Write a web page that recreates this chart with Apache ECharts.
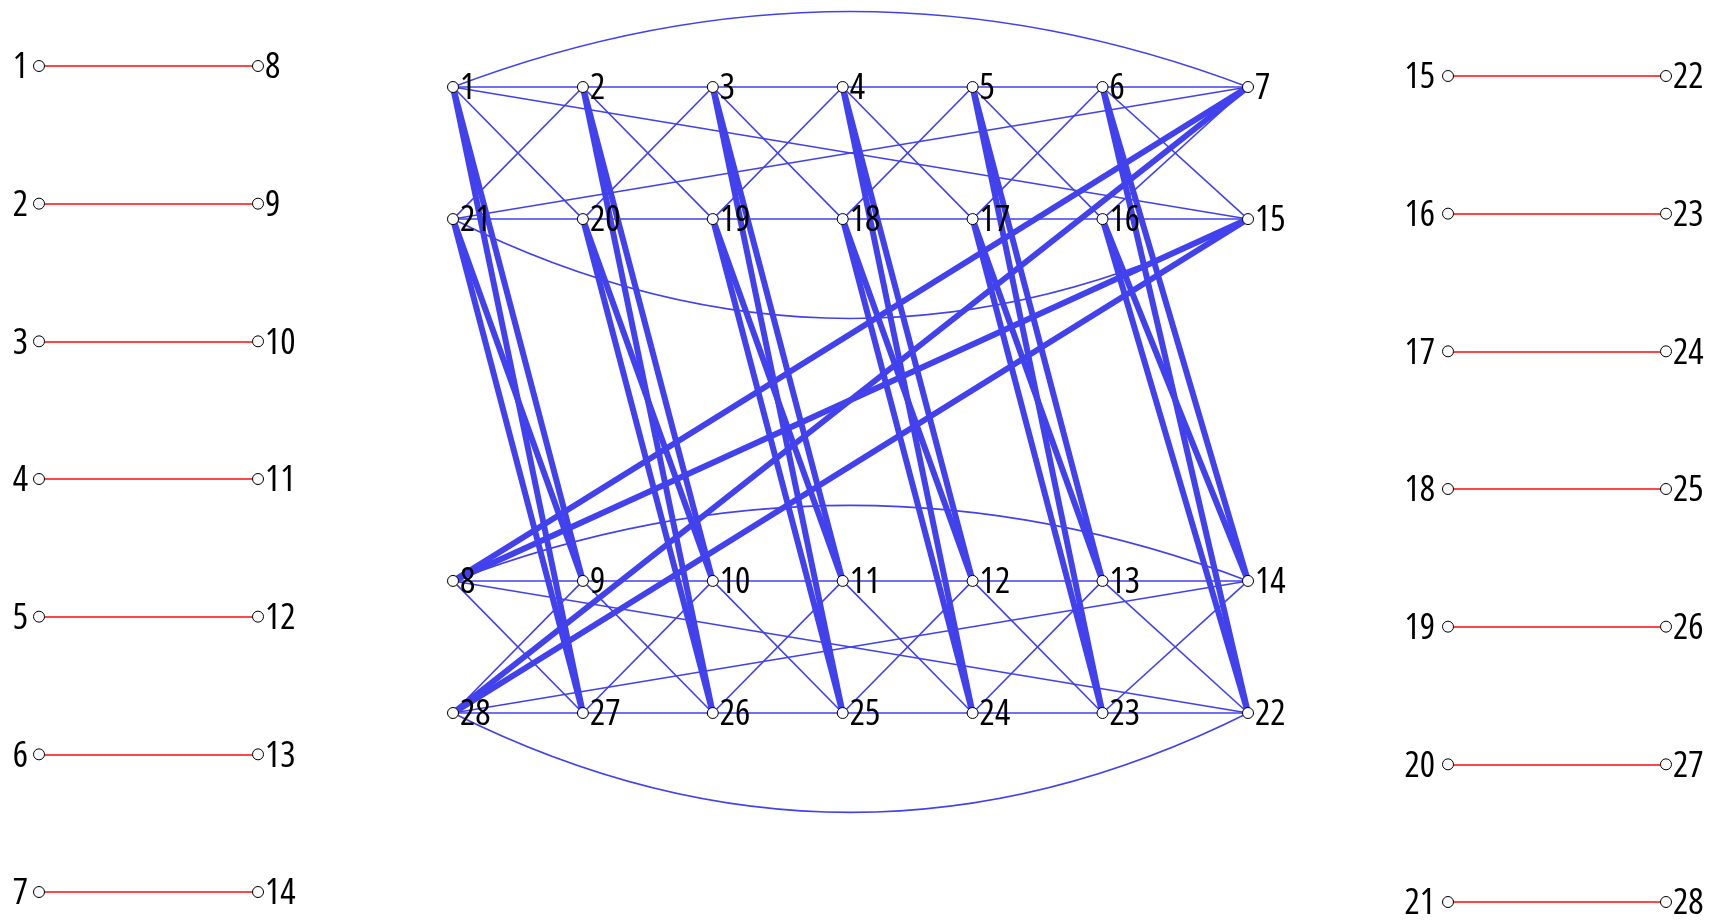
<!DOCTYPE html>
<html><head><meta charset="utf-8">
<script src="https://cdn.jsdelivr.net/npm/echarts@6/dist/echarts.min.js"></script>
<style>html,body{margin:0;padding:0;background:#fff}#c{width:1713px;height:921px}</style>
</head><body><div id="c"></div>
<script>
// ---- data ----
const leftPairs = [[1,8],[2,9],[3,10],[4,11],[5,12],[6,13],[7,14]];
const rightPairs = [[15,22],[16,23],[17,24],[18,25],[19,26],[20,27],[21,28]];

const row1Nodes = [1,2,3,4,5,6,7];
const row2Nodes = [21,20,19,18,17,16,15];
const row3Nodes = [8,9,10,11,12,13,14];
const row4Nodes = [28,27,26,25,24,23,22];
const columnPos = [0,1,2,3,4,5,6.12];
const rowPos = [0,1,3.74,4.74];

const thinEdges = [
  [1,2],[2,3],[3,4],[4,5],[5,6],[6,7],
  [21,20],[20,19],[19,18],[18,17],[17,16],[16,15],
  [8,9],[9,10],[10,11],[11,12],[12,13],[13,14],
  [28,27],[27,26],[26,25],[25,24],[24,23],[23,22],
  [1,20],[2,21],[2,19],[3,20],[3,18],[4,19],[4,17],[5,18],[5,16],[6,17],[6,15],[7,16],
  [1,15],[21,7],
  [8,27],[9,28],[9,26],[10,27],[10,25],[11,26],[11,24],[12,25],[12,23],[13,24],[13,22],[14,23],
  [8,22],[28,14]
];
const arcEdges = [[1,7,0.19],[21,15,-0.25],[8,14,0.19],[28,22,-0.25]];
const thickEdges = [
  [1,9],[1,27],[21,9],[21,27],
  [2,10],[2,26],[20,10],[20,26],
  [3,11],[3,25],[19,11],[19,25],
  [4,12],[4,24],[18,12],[18,24],
  [5,13],[5,23],[17,13],[17,23],
  [6,14],[6,22],[16,14],[16,22],
  [7,8],[7,28],[15,8],[15,28]
];

// ---- styles ----
const BLUE = '#4141ee';
const RED = '#ff4545';
const labelBase = {show: true, color: '#000', fontSize: 36, fontFamily: "'Open Sans', sans-serif", fontWeight: 'condensed', offset: [0, 2]};
const nodeStyle = {color: '#fafafa', borderColor: '#000', borderWidth: 1};

function pairSeries(pairs, gridIdx, leftDist) {
  const data = [];
  const links = [];
  pairs.forEach((p, i) => {
    data.push({name: String(p[0]), value: [0, i], label: Object.assign({}, labelBase, {position: 'left', distance: leftDist})});
    data.push({name: String(p[1]), value: [1, i], label: Object.assign({}, labelBase, {position: 'right', distance: 1})});
    links.push({source: String(p[0]), target: String(p[1])});
  });
  return {
    type: 'graph', coordinateSystem: 'cartesian2d', xAxisIndex: gridIdx, yAxisIndex: gridIdx,
    symbol: 'circle', symbolSize: 11, itemStyle: nodeStyle, silent: true,
    lineStyle: {color: RED, width: 2, opacity: 1},
    data, links, z: 2
  };
}

const midData = [];
[row1Nodes, row2Nodes, row3Nodes, row4Nodes].forEach((row, r) => {
  row.forEach((n, c) => {
    midData.push({name: String(n), value: [columnPos[c], rowPos[r]]});
  });
});
const midLinks = [];
thinEdges.forEach(e => midLinks.push({source: String(e[0]), target: String(e[1]), lineStyle: {width: 1.6}}));
arcEdges.forEach(e => midLinks.push({source: String(e[0]), target: String(e[1]), lineStyle: {width: 1.6, curveness: e[2]}}));
thickEdges.forEach(e => midLinks.push({source: String(e[0]), target: String(e[1]), lineStyle: {width: 6}}));

const hiddenAxis = {show: false, axisLine: {show: false}, axisTick: {show: false}, axisLabel: {show: false}, splitLine: {show: false}};

const option = {
  animation: false,
  backgroundColor: '#fff',
  grid: [
    {left: 39, top: 66, width: 219, height: 826},
    {left: 453, top: 87, width: 795, height: 626},
    {left: 1448, top: 76, width: 218, height: 826}
  ],
  xAxis: [
    Object.assign({type: 'value', gridIndex: 0, min: 0, max: 1}, hiddenAxis),
    Object.assign({type: 'value', gridIndex: 1, min: 0, max: 6.12}, hiddenAxis),
    Object.assign({type: 'value', gridIndex: 2, min: 0, max: 1}, hiddenAxis)
  ],
  yAxis: [
    Object.assign({type: 'value', gridIndex: 0, min: 0, max: 6, inverse: true}, hiddenAxis),
    Object.assign({type: 'value', gridIndex: 1, min: 0, max: 4.74, inverse: true}, hiddenAxis),
    Object.assign({type: 'value', gridIndex: 2, min: 0, max: 6, inverse: true}, hiddenAxis)
  ],
  series: [
    pairSeries(leftPairs, 0, 5),
    {
      type: 'graph', coordinateSystem: 'cartesian2d', xAxisIndex: 1, yAxisIndex: 1,
      symbol: 'circle', symbolSize: 11, itemStyle: nodeStyle, silent: true,
      label: Object.assign({}, labelBase, {position: 'right', distance: 1}),
      lineStyle: {color: BLUE, opacity: 1},
      data: midData, links: midLinks, z: 2
    },
    pairSeries(rightPairs, 2, 7)
  ]
};
const chart = echarts.init(document.getElementById('c'), null, {renderer: 'canvas'});
chart.setOption(option);
</script>
</body></html>
